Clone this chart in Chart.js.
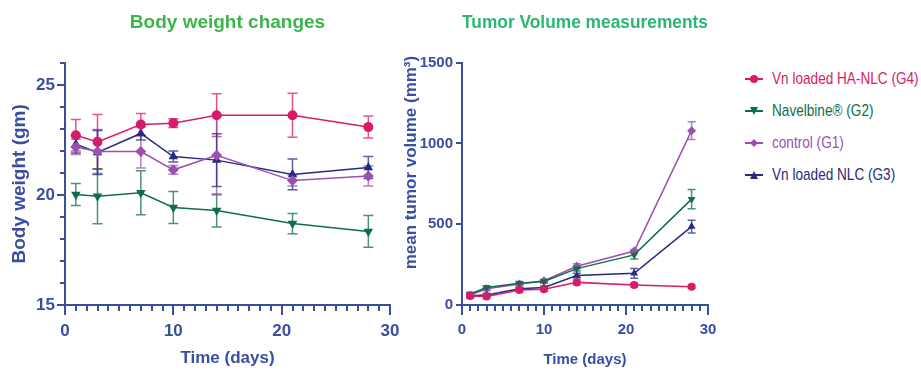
<!DOCTYPE html>
<html>
<head>
<meta charset="utf-8">
<script src="https://cdn.jsdelivr.net/npm/chart.js@4.4.1/dist/chart.umd.min.js"></script>
<style>
  html, body { margin: 0; padding: 0; background: #fff; }
  body { width: 921px; height: 371px; position: relative; overflow: hidden; }
  #bw-wrap { position: absolute; left: 0; top: 0; width: 405px; height: 371px; }
  #tv-wrap { position: absolute; left: 400px; top: 0; width: 320px; height: 371px; }
  #legend {
    position: absolute; left: 745px; top: 63px;
    font-family: 'Liberation Sans', Arial, sans-serif;
    font-size: 17px;
  }
  .item { height: 32px; display: flex; align-items: center; white-space: nowrap; }
  .item .txt { display: inline-block; transform: scaleX(0.8); transform-origin: left center; }
  .sym { position: relative; width: 18px; height: 12px; margin-right: 9px; }
  .sym .ln { position: absolute; left: 0; right: 0; top: 5px; height: 1.5px; }
  .sym .mk { position: absolute; left: 5px; top: 2px; width: 8px; height: 8px; }
  .mk.circle { border-radius: 50%; }
  .mk.down { clip-path: polygon(0 0, 100% 0, 50% 100%); }
  .mk.up { clip-path: polygon(50% 0, 100% 100%, 0 100%); }
  .mk.diamond { clip-path: polygon(50% 0, 100% 50%, 50% 100%, 0 50%); }
</style>
</head>
<body>
<div id="bw-wrap"><canvas id="bwChart"></canvas></div>
<div id="tv-wrap"><canvas id="tvChart"></canvas></div>
<div id="legend"></div>

<script>
// Data
const days = [1, 3, 7, 10, 14, 21, 28];

const groupNames = ['Vn loaded HA-NLC (G4)', 'Navelbine\u00AE (G2)', 'control (G1)', 'Vn loaded NLC (G3)'];

// body weight (gm), mean and error
const bwG4 = [22.71, 22.41, 23.20, 23.26, 23.62, 23.62, 23.08];
const bwG4Err = [0.72, 1.24, 0.50, 0.20, 0.97, 1.00, 0.50];
const bwG2 = [20.02, 19.94, 20.10, 19.43, 19.29, 18.70, 18.34];
const bwG2Err = [0.50, 1.25, 1.00, 0.73, 0.75, 0.46, 0.72];
const bwG1 = [22.18, 21.97, 21.97, 21.14, 21.80, 20.65, 20.86];
const bwG1Err = [0.35, 1.00, 0.75, 0.20, 1.80, 0.25, 0.45];
const bwG3 = [22.30, 21.93, 22.79, 21.74, 21.58, 20.93, 21.25];
const bwG3Err = [0.40, 1.00, 0.30, 0.25, 1.20, 0.70, 0.50];

// mean tumor volume (mm3), mean and error
const tvG4 = [56, 52, 93, 97, 140, 124, 113];
const tvG4Err = [15, 12, 12, 12, 15, 12, 10];
const tvG2 = [68, 108, 135, 145, 225, 310, 655];
const tvG2Err = [10, 10, 10, 10, 15, 25, 60];
const tvG1 = [62, 100, 130, 150, 240, 334, 1079];
const tvG1Err = [10, 10, 10, 10, 15, 10, 55];
const tvG3 = [58, 62, 100, 108, 182, 196, 485];
const tvG3Err = [10, 10, 10, 10, 15, 30, 40];

const bwTicks = [15, 20, 25];
const tvTicks = [0, 500, 1000, 1500];
const timeTicks = [0, 10, 20, 30];

// Styles
const colors = ['#d81b69', '#0f6e47', '#9b50b1', '#262b7d'];
const axisColor = '#3a4ea1';
const markers = [
  { style: 'circle', rot: 0, css: 'circle' },
  { style: 'triangle', rot: 180, css: 'down' },
  { style: 'rectRot', rot: 0, css: 'diamond' },
  { style: 'triangle', rot: 0, css: 'up' }
];
const SANS = "'Liberation Sans', Arial, sans-serif";

function hexA(hex, a) {
  const n = parseInt(hex.slice(1), 16);
  return `rgba(${n >> 16}, ${(n >> 8) & 255}, ${n & 255}, ${a})`;
}

// draws mean +/- error whiskers from dataset.errors, then the axis tick marks
function decorations(cap, tickCfg) {
  return {
    id: 'decorations',
    beforeDatasetsDraw(chart) {
      const ctx = chart.ctx;
      const xs = chart.scales.x, ys = chart.scales.y;
      ctx.save();
      chart.data.datasets.forEach(ds => {
        if (!ds.errors) return;
        ctx.strokeStyle = hexA(ds.borderColor, 0.75);
        ctx.lineWidth = 1.5;
        ds.data.forEach((p, j) => {
          const e = ds.errors[j];
          const px = xs.getPixelForValue(p.x);
          const top = ys.getPixelForValue(p.y + e);
          const bot = ys.getPixelForValue(p.y - e);
          ctx.beginPath();
          ctx.moveTo(px, top); ctx.lineTo(px, bot);
          ctx.moveTo(px - cap, top); ctx.lineTo(px + cap, top);
          ctx.moveTo(px - cap, bot); ctx.lineTo(px + cap, bot);
          ctx.stroke();
        });
      });
      ctx.restore();
    },
    afterDraw(chart) {
      const ctx = chart.ctx;
      ctx.save();
      ctx.fillStyle = axisColor;
      ['x', 'y'].forEach(id => {
        const cfg = tickCfg[id];
        const scale = chart.scales[id];
        const n = Math.round((scale.max - scale.min) / cfg.step);
        for (let k = 0; k <= n; k++) {
          const v = scale.min + k * cfg.step;
          const major = k % cfg.every === 0;
          const len = major ? cfg.majorLen : cfg.minorLen;
          if (!len) continue;
          if (id === 'x') {
            const px = Math.round(scale.getPixelForValue(v));
            ctx.fillRect(px - 1, Math.round(scale.top), 2, len);
          } else {
            const py = Math.round(scale.getPixelForValue(v));
            ctx.fillRect(Math.round(scale.right) - len, py - 1, len, 2);
          }
        }
      });
      ctx.restore();
    }
  };
}

function makeDatasets(series, errs, radius) {
  return series.map((vals, i) => ({
    label: groupNames[i],
    data: vals.map((v, j) => ({ x: days[j], y: v })),
    errors: errs[i],
    borderColor: colors[i],
    backgroundColor: colors[i],
    borderWidth: 1.5,
    pointStyle: markers[i].style,
    rotation: markers[i].rot,
    pointRadius: markers[i].style === 'circle' ? radius : radius + 0.5,
    pointBorderWidth: 0,
    tension: 0,
    clip: false
  }));
}

// x axis shared settings; the tick padding must not widen the plot sideways
function timeAxis(font, titleFont) {
  return {
    type: 'linear', min: 0, max: 30,
    afterFit: s => { s.height = 66; s.paddingLeft = 0; s.paddingRight = 0; },
    grid: { display: false, drawTicks: false },
    border: { color: axisColor, width: 2 },
    afterBuildTicks: s => { s.ticks = timeTicks.map(v => ({ value: v })); },
    ticks: { color: axisColor, font: font, padding: 16, maxRotation: 0 },
    title: { display: true, text: 'Time (days)', color: axisColor, font: titleFont, padding: { bottom: 2 } }
  };
}

// Body weight chart
new Chart(document.getElementById('bwChart'), {
  type: 'line',
  data: {
    datasets: makeDatasets([bwG4, bwG2, bwG1, bwG3], [bwG4Err, bwG2Err, bwG1Err, bwG3Err], 5)
  },
  options: {
    responsive: true,
    maintainAspectRatio: false,
    animation: false,
    layout: { padding: { right: 15 } },
    plugins: {
      legend: { display: false },
      tooltip: { enabled: false },
      title: {
        display: true,
        fullSize: false,
        text: 'Body weight changes',
        color: '#3ab54a',
        font: { family: SANS, size: 19, weight: 'bold' },
        padding: { top: 11, bottom: 29 }
      }
    },
    scales: {
      x: timeAxis({ family: SANS, size: 17, weight: 'bold' }, { family: SANS, size: 17, weight: 'bold' }),
      y: {
        min: 15, max: 26,
        afterFit: s => { s.width = 65; },
        grid: { display: false, drawTicks: false },
        border: { color: axisColor, width: 2 },
        afterBuildTicks: s => { s.ticks = bwTicks.map(v => ({ value: v })); },
        ticks: { color: axisColor, font: { family: SANS, size: 17, weight: 'bold' }, padding: 10 },
        title: { display: true, text: 'Body weight (gm)', color: axisColor,
          font: { family: SANS, size: 19, weight: 'bold' }, padding: { top: 8 } }
      }
    }
  },
  plugins: [
    decorations(5, {
      x: { step: 1, every: 10, minorLen: 6, majorLen: 10 },
      y: { step: 1, every: 5, minorLen: 5, majorLen: 8 }
    })
  ]
});

// Tumor volume chart
new Chart(document.getElementById('tvChart'), {
  type: 'line',
  data: {
    datasets: makeDatasets([tvG4, tvG2, tvG1, tvG3], [tvG4Err, tvG2Err, tvG1Err, tvG3Err], 4)
  },
  options: {
    responsive: true,
    maintainAspectRatio: false,
    animation: false,
    layout: { padding: { right: 12 } },
    plugins: {
      legend: { display: false },
      tooltip: { enabled: false },
      title: {
        display: true,
        fullSize: false,
        text: 'Tumor Volume measurements',
        color: '#2bb673',
        font: { family: SANS, size: 18, weight: 'bold' },
        padding: { top: 12, bottom: 29 }
      }
    },
    scales: {
      x: timeAxis({ family: SANS, size: 15, weight: 'bold' }, { family: SANS, size: 15, weight: 'bold' }),
      y: {
        min: 0, max: 1500,
        afterFit: s => { s.width = 62; },
        grid: { display: false, drawTicks: false },
        border: { color: axisColor, width: 2 },
        afterBuildTicks: s => { s.ticks = tvTicks.map(v => ({ value: v })); },
        ticks: { color: axisColor, font: { family: SANS, size: 15, weight: 'bold' }, padding: 9,
          callback: v => String(v) },
        title: { display: true, text: '         mean tumor volume (mm\u00B3)', color: axisColor,
          font: { family: SANS, size: 17, weight: 'bold' }, padding: { top: 1 } }
      }
    }
  },
  plugins: [
    decorations(4, {
      x: { step: 1, every: 10, minorLen: 6, majorLen: 10 },
      y: { step: 500, every: 1, minorLen: 0, majorLen: 6 }
    })
  ]
});

// Legend
const legend = document.getElementById('legend');
groupNames.forEach((name, i) => {
  const item = document.createElement('div');
  item.className = 'item';
  item.style.color = colors[i];
  item.innerHTML =
    `<span class="sym"><span class="ln" style="background:${colors[i]}"></span>` +
    `<span class="mk ${markers[i].css}" style="background:${colors[i]}"></span></span>` +
    `<span class="txt">${name}</span>`;
  legend.appendChild(item);
});
</script>
</body>
</html>
